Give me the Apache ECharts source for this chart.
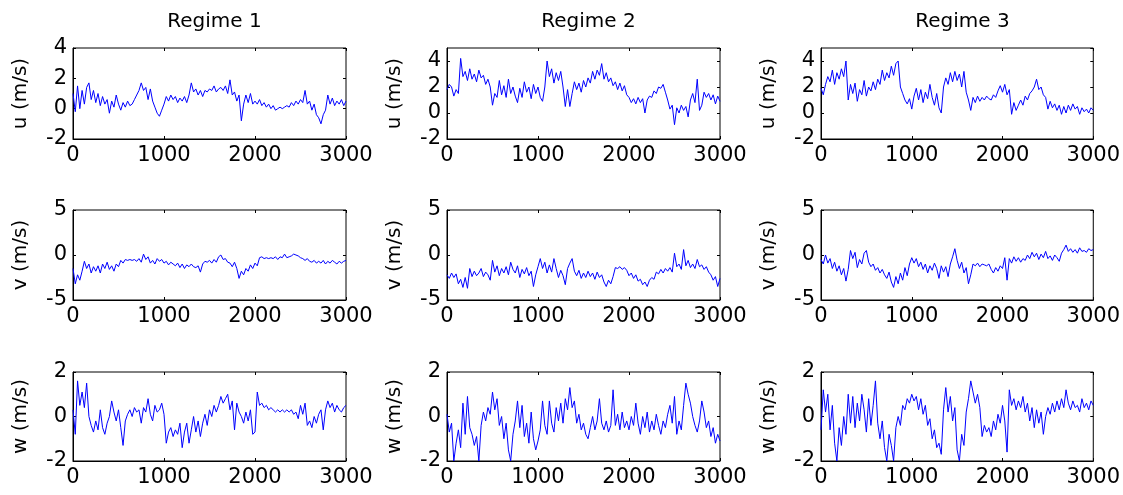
<!DOCTYPE html>
<html>
<head>
<meta charset="utf-8">
<title>Velocity components per regime</title>
<script src="https://cdn.jsdelivr.net/npm/echarts@6/dist/echarts.min.js"></script>
<style>
  html, body { margin: 0; padding: 0; background: #fff; }
  #chart { width: 1123px; height: 495px; }
</style>
</head>
<body>
<div id="chart"></div>
<script>
// samples every 25 steps (0 .. 3000)
const sampleStep = 25;
const sampleIndex = Array.from({ length: 121 }, (_, i) => i * sampleStep);

const regimeTitles = ['Regime 1', 'Regime 2', 'Regime 3'];
const componentNames = ['u (m/s)', 'v (m/s)', 'w (m/s)'];
const xTicks = [0, 1000, 2000, 3000];
const uTicksR1 = [-2, 0, 2, 4];
const uTicksR23 = [-2, 0, 2, 4];   // axis runs to 5, last label not shown
const vTicks = [-5, 0, 5];
const wTicks = [-2, 0, 2];

// Regime 1
const r1U = [1.0,-0.2,1.5,0.0,1.2,0.3,1.4,1.7,0.6,1.2,0.4,1.0,0.2,0.8,0.3,0.6,-0.3,0.5,0.1,0.9,
  0.3,-0.1,0.4,0.1,0.5,0.2,0.3,0.6,0.9,1.2,1.7,1.2,1.4,0.6,1.3,0.5,0.1,-0.3,-0.5,-0.1,
  0.3,0.8,0.5,0.9,0.6,0.8,0.4,0.7,0.5,0.8,0.4,0.9,1.7,1.1,1.3,0.9,1.2,0.8,1.2,1.1,
  1.3,1.2,1.5,1.1,1.3,1.4,1.2,1.5,1.0,1.9,0.9,1.1,0.5,0.9,-0.8,0.3,0.9,0.4,1.0,0.3,
  0.5,0.3,0.6,0.2,0.4,0.1,0.3,0.0,0.2,-0.1,0.0,0.1,0.0,0.1,0.2,0.1,0.4,0.2,0.5,0.3,
  0.6,0.4,1.2,0.3,0.5,-0.1,0.3,-0.4,-0.6,-1.0,-0.4,-0.1,0.9,0.3,0.7,0.2,0.5,0.3,0.6,0.2,0.5];
const r1V = [-1.5,-3.2,-2.2,-2.8,-1.8,-0.7,-1.5,-1.0,-2.0,-1.3,-1.8,-1.2,-2.0,-1.0,-1.5,-0.8,-1.6,-1.2,-1.8,-1.0,
  -1.3,-0.6,-0.9,-0.5,-0.6,-0.5,-0.6,-0.5,-0.7,-0.4,-0.8,0.1,-0.5,-0.2,-0.9,-0.6,-1.0,-0.4,-0.7,-0.5,
  -0.9,-0.7,-1.1,-0.8,-1.0,-1.2,-0.9,-1.4,-1.0,-1.5,-1.1,-1.3,-1.0,-1.3,-1.4,-1.2,-1.9,-1.0,-0.7,-0.8,
  -0.6,-0.9,-0.5,-0.8,-0.2,0.0,-0.5,-0.4,-0.8,-0.9,-1.3,-0.8,-1.5,-2.6,-1.8,-2.2,-1.5,-1.8,-1.1,-1.5,
  -0.9,-1.2,-0.3,-0.2,-0.4,-0.3,-0.4,-0.3,-0.4,-0.2,-0.5,-0.2,-0.3,0.1,-0.3,-0.2,-0.1,0.1,0.0,-0.1,
  -0.3,-0.4,-0.6,-0.4,-0.7,-0.8,-0.6,-0.9,-0.7,-0.9,-0.6,-1.0,-0.7,-0.9,-0.6,-0.8,-1.0,-0.7,-0.9,-0.7,-0.6];
const r1W = [0.3,-0.8,1.6,0.5,1.1,0.4,1.5,0.0,-0.4,-0.7,-0.2,-0.6,0.3,-0.5,-0.8,-0.3,0.0,0.7,0.2,-0.2,
  0.3,-0.5,-1.3,-0.2,0.1,0.3,0.0,0.4,0.2,0.3,-0.3,0.4,0.2,0.8,0.1,-0.2,0.5,0.2,0.3,0.6,
  0.1,-1.2,-0.7,-0.5,-0.9,-0.6,-0.8,-0.3,-1.4,-0.7,-0.3,-1.2,-0.6,0.0,-0.7,-0.2,-0.9,-0.3,0.1,-0.4,
  0.3,0.0,0.5,0.2,0.5,0.9,0.6,0.8,1.0,0.3,0.7,-0.6,0.6,0.2,0.0,-0.3,0.2,-0.2,0.3,-0.8,
  -0.7,1.1,0.5,0.6,0.4,0.5,0.3,0.4,0.3,0.2,0.3,0.2,0.3,0.2,0.3,0.2,0.3,0.1,0.2,-0.1,
  0.5,0.1,0.6,-0.4,-0.2,-0.5,0.0,-0.3,0.1,0.3,-0.6,0.3,0.7,0.4,0.6,0.2,0.5,0.3,0.2,0.4,0.5];

// Regime 2
const r2U = [1.8,2.2,2.0,1.3,1.8,1.5,4.2,2.8,3.2,2.5,3.4,2.6,3.0,2.4,3.3,2.7,2.9,2.2,2.6,2.0,
  0.6,1.5,1.2,2.5,1.4,2.1,1.2,2.6,1.5,2.0,1.3,0.8,1.9,1.2,2.4,1.6,2.0,1.1,2.2,1.5,
  2.0,1.2,0.9,2.0,4.0,2.8,3.4,2.3,3.1,2.5,3.2,2.0,0.5,1.8,0.5,1.5,2.4,1.8,2.3,1.6,
  2.5,2.0,2.7,2.3,3.2,2.6,3.3,2.9,3.8,2.6,3.1,2.4,2.7,2.1,2.4,1.8,2.3,1.7,2.1,1.4,
  1.2,0.8,1.1,0.7,1.2,0.8,1.1,0.0,1.0,1.3,1.2,1.7,1.5,2.0,1.9,2.2,1.6,1.0,0.3,0.6,
  -0.9,0.4,0.0,0.6,0.2,0.5,-0.3,1.0,1.5,0.8,2.6,0.2,0.6,1.6,1.2,1.5,1.0,1.4,0.7,1.3,0.9];
const r2V = [-2.2,-2.6,-2.0,-2.5,-2.1,-3.2,-2.7,-3.6,-2.5,-3.7,-1.5,-2.4,-1.8,-2.3,-2.0,-1.5,-2.4,-1.9,-2.2,-2.8,
  -0.6,-1.9,-1.2,-2.3,-1.5,-2.0,-1.3,-2.2,-0.8,-1.6,-2.0,-1.2,-2.5,-1.6,-2.1,-1.4,-2.3,-1.8,-3.5,-2.2,
  -1.3,-0.4,-1.5,-0.8,-2.0,-1.1,-1.9,-0.4,-1.5,-2.5,-1.7,-2.3,-3.3,-1.5,-0.9,-0.4,-1.8,-2.3,-1.7,-2.6,
  -2.0,-2.5,-1.8,-2.4,-2.0,-2.7,-1.9,-2.5,-2.2,-3.0,-3.5,-2.8,-3.2,-2.4,-1.4,-1.5,-1.3,-1.6,-1.4,-1.7,
  -2.3,-2.0,-2.6,-2.2,-2.9,-2.7,-3.3,-3.0,-3.5,-2.8,-2.5,-2.7,-1.9,-2.1,-1.6,-2.0,-1.5,-1.8,-1.4,-1.9,
  0.2,-1.3,-1.0,-1.6,0.6,-1.2,-0.6,-1.4,-1.0,-1.5,-0.5,-1.3,-1.1,-1.6,-1.3,-1.9,-2.2,-2.8,-2.4,-3.5,-2.6];
const r2W = [0.1,-0.7,-0.3,-2.0,-1.2,-0.6,-1.4,0.6,-0.8,0.9,-0.5,-0.8,-1.3,-0.9,-2.0,-0.4,0.2,-0.2,0.4,0.1,
  1.1,0.3,0.8,-0.4,0.0,-1.0,-0.3,-1.5,-2.0,-0.8,-0.2,0.7,-0.5,0.5,-0.9,-0.3,-1.2,0.2,-1.0,-1.5,
  -1.1,-0.6,0.7,-0.4,-0.8,0.7,-0.3,-0.7,0.4,-0.2,0.6,-0.3,0.8,0.3,1.3,0.4,0.7,-0.3,0.1,-0.6,
  -0.3,-0.8,-1.0,-0.5,0.0,-0.6,-0.2,0.8,-0.3,-0.6,-0.2,-0.7,-0.4,1.2,-0.4,0.1,-0.6,0.2,-0.5,-0.2,
  -0.6,0.0,-0.4,0.6,-0.3,-0.8,0.0,-0.5,0.2,-0.7,-0.2,-0.6,0.1,-0.4,-0.8,-0.2,-0.5,0.1,0.5,-0.3,
  0.9,-0.8,-0.2,-0.6,0.5,1.5,1.0,0.6,0.0,-0.4,-0.7,-0.2,0.7,0.2,-0.5,-0.2,-0.9,-0.5,-1.2,-0.8,-1.1];

// Regime 3
const r3U = [1.9,1.4,2.2,2.8,2.4,3.3,2.2,3.1,2.6,3.4,2.8,4.0,1.0,2.2,1.5,2.3,0.9,1.8,1.4,2.5,
  1.3,2.0,1.7,2.4,1.8,2.6,2.2,3.3,2.5,3.1,2.7,3.6,2.9,3.8,4.0,2.0,1.5,1.0,0.7,1.1,
  0.3,1.3,1.9,1.0,1.8,0.8,1.6,1.1,2.2,1.2,0.6,1.5,0.4,0.0,2.0,2.7,2.2,3.1,2.4,3.2,
  2.5,3.0,2.0,3.2,1.6,1.0,0.2,1.2,0.8,1.3,0.9,1.2,1.0,1.3,1.1,1.0,1.4,1.2,1.7,2.1,
  1.6,2.2,1.4,1.8,-0.1,0.8,0.2,0.6,1.0,0.6,1.3,1.0,1.5,1.7,2.0,2.6,1.8,2.0,1.4,1.2,
  0.3,0.9,0.4,0.7,0.2,0.6,-0.1,0.5,0.0,0.6,0.2,0.7,0.3,0.5,-0.1,0.4,0.1,0.3,0.0,0.4,0.2];
const r3V = [-0.5,-1.0,0.0,-0.9,-0.4,-1.5,-0.8,-1.8,-1.2,-2.2,-1.5,-2.9,-1.6,0.5,-0.4,0.3,-1.4,-0.5,-1.0,0.2,
  0.5,-0.8,-1.3,-1.0,-1.7,-1.4,-2.0,-1.6,-2.2,-2.6,-1.9,-3.0,-3.6,-2.4,-3.2,-2.0,-2.8,-1.4,-2.3,-1.0,
  -0.3,-0.9,-0.4,-1.3,-0.8,-1.6,-1.0,-2.0,-1.2,-1.7,-0.9,-1.5,-2.6,-1.2,-1.9,-1.3,-2.4,-1.0,-0.2,0.7,
  -0.6,-1.5,-0.8,-2.0,-1.4,-3.2,-2.2,-1.0,-1.2,-0.9,-1.3,-1.0,-1.1,-1.2,-1.0,-1.6,-2.0,-1.4,-1.8,-1.2,
  -1.5,-0.3,-2.8,-0.4,-0.9,-0.2,-0.7,-0.3,-0.8,-0.4,-0.6,0.0,-0.4,0.3,-0.2,0.2,-0.5,0.1,-0.3,0.4,
  -0.4,-0.1,-0.6,0.0,-0.3,-0.7,0.2,0.6,1.1,0.4,0.7,0.3,0.6,0.2,0.8,0.4,0.5,0.3,0.7,0.5,0.6];
const r3W = [-0.6,1.2,0.2,1.0,-0.6,0.5,-1.2,-2.0,-0.5,-1.3,0.0,-0.8,1.0,-0.3,0.9,-0.5,0.6,-0.2,1.0,0.3,
  -0.7,0.8,-0.4,0.5,1.6,-0.3,-1.0,-0.2,-1.4,-2.0,-0.8,-1.3,-2.0,-0.5,0.0,-0.4,0.5,0.3,0.8,0.6,
  1.0,0.7,0.9,0.3,0.8,0.1,0.5,-0.4,-0.1,-1.0,-0.6,-1.4,-1.2,-1.7,0.3,1.3,0.2,0.9,-0.2,0.4,
  -1.5,-2.0,-0.8,-1.3,0.2,0.8,1.6,1.1,0.6,1.0,0.4,-0.9,-0.4,-0.7,-0.5,-0.9,-0.2,-0.6,0.1,-0.3,
  0.5,-0.2,-1.6,1.2,0.5,0.8,0.3,0.7,0.4,0.9,0.2,0.6,-0.2,0.4,-0.5,0.3,-0.3,0.2,-0.8,0.0,
  0.4,0.1,0.6,0.2,0.7,0.3,0.8,0.4,1.2,0.6,0.3,0.7,0.4,0.5,0.2,0.8,0.4,0.6,0.3,0.7,0.5];

const panels = [
  [r1U, r2U, r3U],
  [r1V, r2V, r3V],
  [r1W, r2W, r3W]
];

// y ranges per row / column
function yRange(row, col) {
  if (row === 0) return col === 0 ? { min: -2, max: 4, interval: 2 } : { min: -2, max: 5, interval: 2 };
  if (row === 1) return { min: -5, max: 5, interval: 5 };
  return { min: -2, max: 2, interval: 2 };
}

const FONT = 'DejaVu Sans';
const colLeft = [73, 447, 821];
const plotWidth = 273;
const rowTop = [48, 210, 372];
const rowHeight = [91, 90, 89];

const tickStyle = { show: true, inside: true, length: 3, lineStyle: { color: '#000' } };
const plainNumber = v => String(v);

const grids = [];
const xAxes = [];
const yAxes = [];
const series = [];

for (let r = 0; r < 3; r++) {
  for (let c = 0; c < 3; c++) {
    const gi = grids.length;
    grids.push({
      left: colLeft[c], top: rowTop[r], width: plotWidth, height: rowHeight[r],
      show: true, borderColor: '#000', borderWidth: 1, backgroundColor: '#fff'
    });
    const yr = yRange(r, c);
    // bottom / left axes with labels
    xAxes.push({
      type: 'value', gridIndex: gi, min: 0, max: 3000, interval: 1000, position: 'bottom',
      axisLine: { show: true, onZero: false, lineStyle: { color: '#000', width: 1 } },
      axisTick: tickStyle,
      axisLabel: { show: true, margin: 6, color: '#000', fontFamily: FONT, fontSize: 21, formatter: plainNumber },
      splitLine: { show: false }
    });
    yAxes.push({
      type: 'value', gridIndex: gi, min: yr.min, max: yr.max, interval: yr.interval, position: 'left',
      name: componentNames[r], nameLocation: 'middle', nameGap: 42,
      nameTextStyle: { color: '#000', fontFamily: FONT, fontSize: 20 },
      axisLine: { show: true, onZero: false, lineStyle: { color: '#000', width: 1 } },
      axisTick: tickStyle,
      axisLabel: { show: true, margin: 6, color: '#000', fontFamily: FONT, fontSize: 21,
        formatter: plainNumber, showMaxLabel: yr.max % yr.interval === 0 },
      splitLine: { show: false }
    });
    // mirrored ticks on top / right (box on)
    xAxes.push({
      type: 'value', gridIndex: gi, min: 0, max: 3000, interval: 1000, position: 'top',
      axisLine: { show: false, onZero: false },
      axisTick: tickStyle,
      axisLabel: { show: false }, splitLine: { show: false }
    });
    yAxes.push({
      type: 'value', gridIndex: gi, min: yr.min, max: yr.max, interval: yr.interval, position: 'right',
      axisLine: { show: false, onZero: false },
      axisTick: tickStyle,
      axisLabel: { show: false }, splitLine: { show: false }
    });
    series.push({
      type: 'line',
      xAxisIndex: gi * 2, yAxisIndex: gi * 2,
      data: panels[r][c].map((v, i) => [sampleIndex[i], v]),
      showSymbol: false, symbol: 'none',
      lineStyle: { color: '#0000ff', width: 1 },
      clip: true, silent: true
    });
  }
}

const titles = regimeTitles.map((t, c) => ({
  text: t, left: colLeft[c] + plotWidth / 2, top: 7, textAlign: 'center',
  textStyle: { color: '#000', fontFamily: FONT, fontSize: 20, fontWeight: 'normal' }
}));

const chart = echarts.init(document.getElementById('chart'));
chart.setOption({
  animation: false,
  backgroundColor: '#fff',
  title: titles,
  grid: grids,
  xAxis: xAxes,
  yAxis: yAxes,
  series: series
});
window.addEventListener('resize', () => chart.resize());
</script>
</body>
</html>
